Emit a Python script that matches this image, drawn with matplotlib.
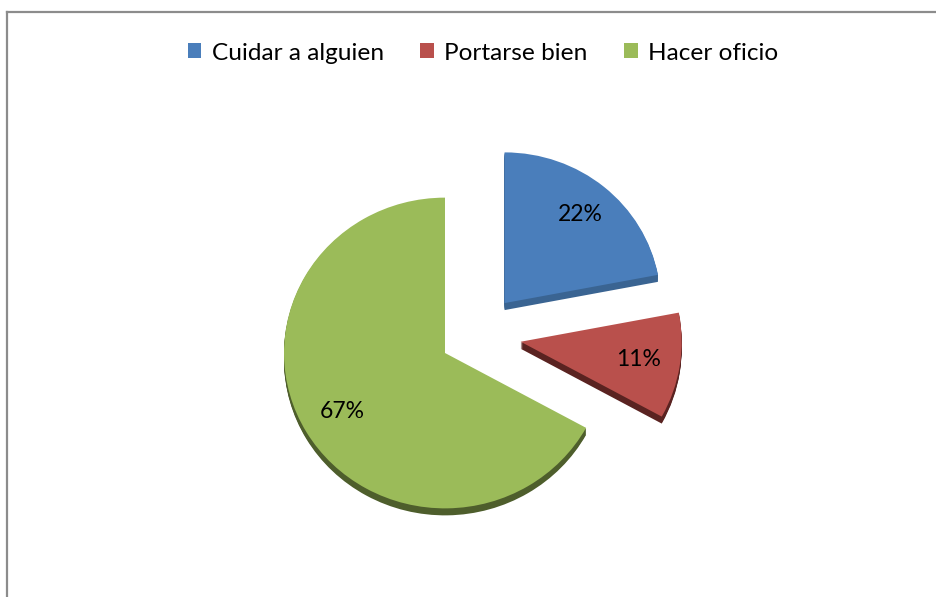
import numpy as np
import matplotlib.pyplot as plt
from matplotlib.patches import Patch
from matplotlib.lines import Line2D

labels = ['Cuidar a alguien', 'Portarse bien', 'Hacer oficio']
values = [22, 11, 67]
colors = ['#4A7EBB', '#B9504C', '#9BBB59']
side_colors = ['#3A6492', '#5A2321', '#4E5E2C']

# slice pull-out (x, y) as fraction of the radius, screen pixels (y up)
pull = [(0.37, 0.31), (0.47, 0.07), (0.0, 0.0)]
shrink = [0.97, 1.0, 1.0]    # far slice looks a bit smaller

W, H = 936, 597
sq = 0.965          # slight vertical squash for the tilted look
R = 161
cx, cy = 445, 353   # pie centre in pixels (y down)

fig = plt.figure(figsize=(W / 100, H / 100), dpi=100)
ax = fig.add_axes([0, 0, 1, 1])

def py(y):
    return (H - y) / sq

def draw(cols, drop=0, pct=False):
    kw = dict(autopct='%1.0f%%', pctdistance=0.74,
              textprops=dict(fontsize=16.5, family='Lato', color='black')) if pct else {}
    res = ax.pie(values, colors=cols, startangle=90, counterclock=False,
                 radius=R, center=(cx, py(cy) - drop / sq), frame=True,
                 wedgeprops=dict(linewidth=0), **kw)
    for i, w in enumerate(res[0]):
        dx, dy = pull[i][0] * R, pull[i][1] * R / sq
        x0, y0 = w.center
        w.set_center((x0 + dx, y0 + dy))
        w.set_radius(R * shrink[i])
        if pct:
            tx, ty = res[2][i].get_position()
            res[2][i].set_position((tx + dx, ty + dy))
    return res

# dark extruded side: stacked copies shifted downwards
for k in range(7, 0, -1):
    draw(side_colors, drop=k)
draw(colors, pct=True)

ax.set_xlim(0, W)
ax.set_ylim(0, H / sq)
ax.set_aspect('auto')
ax.axis('off')

# chart area border (top and left visible)
fig.add_artist(Line2D([7 / W, 7 / W], [0, 1 - 12 / H], transform=fig.transFigure,
                      color='#8C8C8C', lw=1.6))
fig.add_artist(Line2D([7 / W, 1], [1 - 12 / H, 1 - 12 / H], transform=fig.transFigure,
                      color='#8C8C8C', lw=1.6))

handles = [Patch(facecolor=c, edgecolor='none') for c in colors]
fig.legend(handles, labels, loc='center', bbox_to_anchor=(483 / W, 1 - 53 / H),
           ncol=3, frameon=False, prop=dict(family='Lato', size=17.6),
           handlelength=0.55, handleheight=0.55, handletextpad=0.42,
           columnspacing=1.5)

fig.savefig('out.png', dpi=100)
